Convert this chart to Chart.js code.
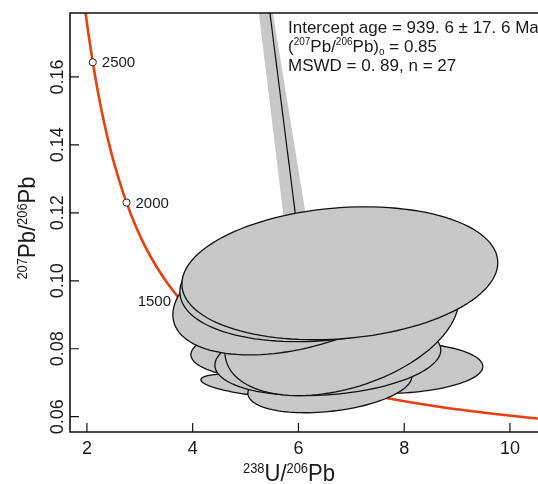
<!DOCTYPE html>
<html lang="en">
<head>
<meta charset="UTF-8">
<title>Concordia diagram</title>
<script src="https://cdn.jsdelivr.net/npm/chart.js"></script>
<style>
  body { margin: 0; background: #fff; }
  canvas { display: block; }
</style>
</head>
<body>
<canvas id="concordiaChart" width="538" height="484"></canvas>
<script>
// concordia curve (238U/206Pb vs 207Pb/206Pb)
const concordiaX = [1.922, 2.013, 2.111, 2.217, 2.333, 2.459, 2.597, 2.749, 2.917, 3.105, 3.314, 3.550, 3.817, 4.123, 4.476, 4.887, 5.375, 5.960, 6.675, 7.568, 8.718, 10.25, 11.02];
const concordiaY = [0.1852, 0.1744, 0.1643, 0.1548, 0.1460, 0.1378, 0.1302, 0.1230, 0.1163, 0.1100, 0.1042, 0.0987, 0.0936, 0.0888, 0.0843, 0.0801, 0.0762, 0.0725, 0.0690, 0.0658, 0.0628, 0.0599, 0.0588];

// age marks on the concordia (Ma)
const ageLabels = ['2500', '2000', '1500'];
const ageX = [2.111, 2.749, 3.817];
const ageY = [0.1643, 0.1230, 0.0936];

// discordia line and its error band
const discordiaX = [5.37, 6.34];
const discordiaY = [0.19, 0.0705];
const bandX = [5.164, 5.866, 6.342, 5.399];
const bandY = [0.19, 0.10, 0.10, 0.19];

// error ellipses: centre, half widths, correlation (lowest in the stack first)
const ellX   = [7.633, 5.308, 6.594, 5.837, 6.556, 6.820, 6.045, 6.594, 6.783];
const ellY   = [0.0744, 0.0691, 0.0694, 0.0791, 0.0774, 0.0868, 0.0979, 0.1009, 0.1022];
const ellSX  = [1.853, 1.153, 1.550, 1.871, 2.136, 2.212, 2.420, 2.836, 2.987];
const ellSY  = [0.00765, 0.00353, 0.00824, 0.00824, 0.01118, 0.02059, 0.01971, 0.01882, 0.01956];
const ellRho = [0.05, -0.5, 0.3, 0.1, 0.2, 0.37, 0.40, 0.22, 0.16];

const xTicks = [2, 4, 6, 8, 10];
const yTicks = [0.06, 0.08, 0.10, 0.12, 0.14, 0.16];

const FONT = '"Liberation Sans", Arial, sans-serif';
const INK = '#1a1a1a';

const pts = (xs, ys) => xs.map((x, i) => ({ x: x, y: ys[i] }));

// text with super/subscripts: parts = [text, size, dy]
function drawRich(ctx, parts, x, y, align) {
  let w = 0;
  parts.forEach(p => { ctx.font = p[1] + 'px ' + FONT; w += ctx.measureText(p[0]).width; });
  let cx = align === 'center' ? x - w / 2 : x;
  ctx.textAlign = 'left';
  ctx.textBaseline = 'alphabetic';
  parts.forEach(p => {
    ctx.font = p[1] + 'px ' + FONT;
    ctx.fillText(p[0], cx, y + p[2]);
    cx += ctx.measureText(p[0]).width;
  });
}

const extras = {
  id: 'extras',
  afterDatasetsDraw(chart) {
    const { ctx, chartArea: a, scales: { x, y } } = chart;
    ctx.save();
    ctx.beginPath();
    ctx.rect(a.left, a.top, a.right - a.left, a.bottom - a.top);
    ctx.clip();
    ellX.forEach((cx, i) => {
      const r = Math.sqrt(1 - ellRho[i] * ellRho[i]);
      ctx.beginPath();
      for (let k = 0; k <= 120; k++) {
        const t = k / 120 * 2 * Math.PI;
        const px = x.getPixelForValue(cx + ellSX[i] * Math.cos(t));
        const py = y.getPixelForValue(ellY[i] + ellSY[i] * (ellRho[i] * Math.cos(t) + r * Math.sin(t)));
        if (k) ctx.lineTo(px, py); else ctx.moveTo(px, py);
      }
      ctx.closePath();
      ctx.fillStyle = '#c8c8c8';
      ctx.fill();
      ctx.lineWidth = 1.3;
      ctx.strokeStyle = '#111';
      ctx.stroke();
    });
    ctx.restore();
  },
  afterDraw(chart) {
    const { ctx, chartArea: a, scales: { x, y } } = chart;
    ctx.save();
    // frame: left, bottom and top lines
    ctx.strokeStyle = '#111';
    ctx.lineWidth = 1.6;
    ctx.beginPath();
    ctx.moveTo(a.right, a.top); ctx.lineTo(a.left, a.top);
    ctx.lineTo(a.left, a.bottom); ctx.lineTo(a.right, a.bottom);
    ctx.stroke();
    // inward ticks
    ctx.lineWidth = 1.2;
    ctx.beginPath();
    x.ticks.forEach(t => {
      const px = x.getPixelForValue(t.value);
      ctx.moveTo(px, a.bottom); ctx.lineTo(px, a.bottom - 9);
    });
    y.ticks.forEach(t => {
      const py = y.getPixelForValue(t.value);
      ctx.moveTo(a.left, py); ctx.lineTo(a.left + 9, py);
    });
    ctx.stroke();

    // rotated y tick labels
    ctx.fillStyle = INK;
    ctx.font = '18px ' + FONT;
    ctx.textAlign = 'center';
    ctx.textBaseline = 'alphabetic';
    y.ticks.forEach(t => {
      ctx.save();
      ctx.translate(63, y.getPixelForValue(t.value));
      ctx.rotate(-Math.PI / 2);
      ctx.fillText(t.value.toFixed(2), 0, 0);
      ctx.restore();
    });

    // axis titles
    ctx.save();
    ctx.translate(289, 481);
    ctx.scale(0.92, 1);
    drawRich(ctx, [['238', 14, -8], ['U/', 24, 0], ['206', 14, -8], ['Pb', 24, 0]], 0, 0, 'center');
    ctx.restore();
    ctx.save();
    ctx.translate(35, 228);
    ctx.rotate(-Math.PI / 2);
    ctx.scale(0.92, 1);
    drawRich(ctx, [['207', 14, -8], ['Pb/', 24, 0], ['206', 14, -8], ['Pb', 24, 0]], 0, 0, 'center');
    ctx.restore();

    // age labels on the concordia
    ctx.font = '15px ' + FONT;
    ctx.textBaseline = 'middle';
    ageLabels.forEach((lab, i) => {
      const px = x.getPixelForValue(ageX[i]);
      const py = y.getPixelForValue(ageY[i]);
      if (i < 2) { ctx.textAlign = 'left'; ctx.fillText(lab, px + 9, py + 1); }
      else { ctx.textAlign = 'right'; ctx.fillText(lab, px - 12, py - 1); }
    });

    // result text
    drawRich(ctx, [['Intercept age = 939. 6 \u00b1 17. 6 Ma', 17, 0]], 288, 33, 'left');
    drawRich(ctx, [['(', 17, 0], ['207', 10, -7], ['Pb/', 17, 0], ['206', 10, -7], ['Pb)', 17, 0], ['o', 10, 3], [' = 0.85', 17, 0]], 288, 52, 'left');
    drawRich(ctx, [['MSWD = 0. 89, n = 27', 17, 0]], 288, 71, 'left');
    ctx.restore();
  }
};

// Chart.js paints the last dataset first, so the band goes last here
new Chart(document.getElementById('concordiaChart'), {
  type: 'scatter',
  data: {
    datasets: [
      {
        data: pts(ageX, ageY),
        pointRadius: 3.6,
        pointBackgroundColor: '#fff',
        pointBorderColor: '#222',
        pointBorderWidth: 1
      },
      {
        data: pts(concordiaX, concordiaY),
        showLine: true,
        borderColor: '#e8400e',
        borderWidth: 2.6,
        cubicInterpolationMode: 'monotone',
        pointRadius: 0
      },
      {
        data: pts(discordiaX, discordiaY),
        showLine: true,
        borderColor: '#111',
        borderWidth: 1.2,
        pointRadius: 0
      },
      {
        data: pts(bandX, bandY),
        showLine: true,
        fill: 'shape',
        backgroundColor: '#c8c8c8',
        borderWidth: 0,
        pointRadius: 0
      }
    ]
  },
  options: {
    responsive: false,
    animation: false,
    devicePixelRatio: 1,
    layout: { autoPadding: false, padding: { top: 13, left: 0, right: 0, bottom: 0 } },
    plugins: { legend: { display: false }, tooltip: { enabled: false } },
    scales: {
      x: {
        type: 'linear',
        min: 1.68,
        max: 10.53,
        afterBuildTicks: s => { s.ticks = xTicks.map(v => ({ value: v })); },
        afterFit: s => { s.height = 52; s.paddingRight = 0; s.paddingLeft = 0; },
        grid: { display: false, drawTicks: false },
        border: { display: false },
        ticks: { font: { family: FONT, size: 18 }, color: INK, padding: 6, maxRotation: 0 }
      },
      y: {
        type: 'linear',
        min: 0.0555,
        max: 0.1788,
        afterBuildTicks: s => { s.ticks = yTicks.map(v => ({ value: v })); },
        afterFit: s => { s.width = 70; },
        grid: { display: false, drawTicks: false },
        border: { display: false },
        ticks: { display: false }
      }
    }
  },
  plugins: [extras]
});
</script>
</body>
</html>
